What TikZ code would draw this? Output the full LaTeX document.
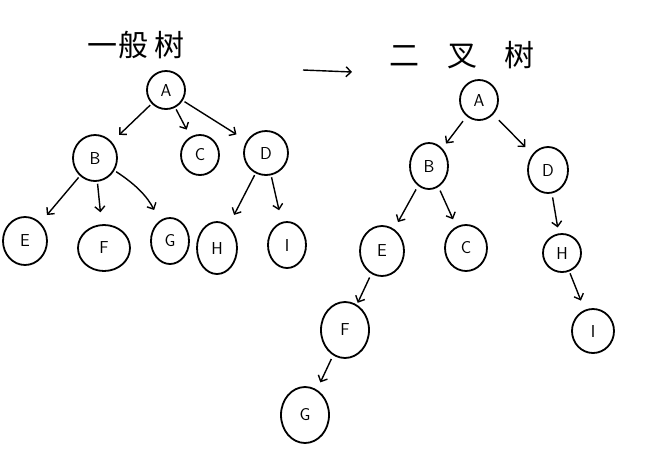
\documentclass[tikz,border=0pt]{standalone}
\usepackage{fontspec}
\newfontfamily\cjk{Noto Sans CJK SC}
\usetikzlibrary{shapes.geometric,arrows.meta}
\begin{document}
\begin{tikzpicture}[x=1pt,y=-1pt,
  vtx/.style={draw,ellipse,line width=1.8pt,inner sep=0pt,font=\sffamily\LARGE},
  edge/.style={line width=1.4pt,-{Straight Barb[length=5pt,width=10pt]},shorten >=4pt,shorten <=2pt},
  ttl/.style={font=\cjk\fontsize{30}{34}\selectfont}]
\useasboundingbox[fill=white] (0,0) rectangle (659,459);
% left: general tree
\node[ttl] (t1) at (136,45) {一\hspace{2pt}般\hspace{6pt}树};
\node[vtx,minimum width=38pt,minimum height=38pt] (lA) at (166,90) {A};
\node[vtx,minimum width=44pt,minimum height=46pt] (lB) at (95,158) {B};
\node[vtx,minimum width=38pt,minimum height=40pt] (lC) at (200,155) {C};
\node[vtx,minimum width=44pt,minimum height=44pt] (lD) at (266,153) {D};
\node[vtx,minimum width=44pt,minimum height=48pt] (lE) at (25,241) {E};
\node[vtx,minimum width=52pt,minimum height=46pt] (lF) at (104,248) {F};
\node[vtx,minimum width=38pt,minimum height=46pt] (lG) at (170,241) {G};
\node[vtx,minimum width=40pt,minimum height=52pt] (lH) at (217,248) {H};
\node[vtx,minimum width=38pt,minimum height=46pt] (lI) at (287,245) {I};
\draw[edge,shorten >=10pt] (lA) -- (lB);
\draw[edge,shorten >=8pt] (lA) -- (lC);
\draw[edge,shorten >=12pt] (lA) -- (lD);
\draw[edge,shorten >=10pt] (lB) -- (lE);
\draw[edge,shorten >=12pt] (lB) -- (lF);
\draw[edge,shorten >=12pt] (lB) to[bend left=15] (lG);
\draw[edge,shorten >=12pt] (lD) -- (lH);
\draw[edge,shorten >=12pt] (lD) -- (lI);
% transformation arrow
\coordinate (s) at (303,70);
\coordinate (e) at (352,72);
\draw[edge,shorten >=0pt,shorten <=0pt] (s) -- (e);
% right: binary tree
\node[ttl] (t2) at (462,55) {二\hspace{28pt}叉\hspace{27pt}树};
\node[vtx,minimum width=38pt,minimum height=40pt] (rA) at (479,100) {A};
\node[vtx,minimum width=38pt,minimum height=46pt] (rB) at (429,166) {B};
\node[vtx,minimum width=40pt,minimum height=46pt] (rD) at (548,170) {D};
\node[vtx,minimum width=44pt,minimum height=50pt] (rE) at (382,251) {E};
\node[vtx,minimum width=42pt,minimum height=46pt] (rC) at (466,248) {C};
\node[vtx,minimum width=38pt,minimum height=38pt] (rH) at (562,253) {H};
\node[vtx,minimum width=48pt,minimum height=56pt] (rF) at (345,330) {F};
\node[vtx,minimum width=42pt,minimum height=44pt] (rI) at (593,331) {I};
\node[vtx,minimum width=48pt,minimum height=56pt] (rG) at (305,415) {G};
\draw[edge,shorten >=6pt,shorten <=6pt] (rA) -- (rB);
\draw[edge,shorten >=10pt,shorten <=8pt] (rA) -- (rD);
\draw[edge,shorten >=8pt,shorten <=4pt] (rB) -- (rE);
\draw[edge,shorten >=8pt,shorten <=4pt] (rB) -- (rC);
\draw[edge,shorten >=6pt,shorten <=4pt] (rD) -- (rH);
\draw[edge,shorten >=10pt,shorten <=2pt] (rH) -- (rI);
\draw[edge,shorten >=2pt,shorten <=4pt] (rE) -- (rF);
\draw[edge,shorten >=8pt,shorten <=4pt] (rF) -- (rG);
\end{tikzpicture}
\end{document}
